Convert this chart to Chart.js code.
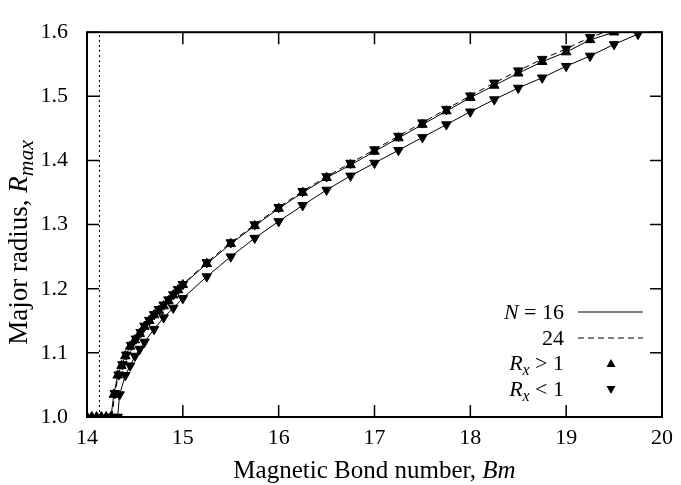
<!DOCTYPE html>
<html>
<head>
<meta charset="utf-8">
<script src="https://cdn.jsdelivr.net/npm/chart.js@4"></script>
<style>
  body { margin: 0; background: #fff; }
</style>
</head>
<body>
<canvas id="chart" width="681" height="485"></canvas>
<script>
// x ticks / y ticks
const xTicks = [14, 15, 16, 17, 18, 19, 20];
const yTicks = [1.0, 1.1, 1.2, 1.3, 1.4, 1.5, 1.6];

// N = 16, Rx > 1 (solid, up triangles)
const bm16Up = [14.0, 14.05, 14.1, 14.15, 14.2, 14.25, 14.28, 14.32, 14.36, 14.4, 14.45, 14.5, 14.55, 14.6, 14.65, 14.7, 14.75, 14.8, 14.85, 14.9, 14.95, 15.0,
  15.25, 15.5, 15.75, 16.0, 16.25, 16.5, 16.75, 17.0, 17.25, 17.5, 17.75, 18.0, 18.25, 18.5, 18.75, 19.0, 19.25, 19.5];
const r16Up = [1.0, 1.0, 1.0, 1.0, 1.0, 1.0, 1.035, 1.065, 1.08, 1.095, 1.11, 1.12, 1.13, 1.141, 1.15, 1.159, 1.166, 1.173, 1.181, 1.19, 1.198, 1.206,
  1.239, 1.270, 1.298, 1.325, 1.350, 1.373, 1.393, 1.414, 1.435, 1.456, 1.477, 1.498, 1.517, 1.536, 1.554, 1.569, 1.588, 1.600];

// N = 24 (dashed, down triangles on the upper branch)
const bm24 = [14.26, 14.29, 14.33, 14.37, 14.41, 14.46, 14.51, 14.56, 14.6, 14.65, 14.7, 14.75, 14.8, 14.85, 14.9, 14.95, 15.0,
  15.25, 15.5, 15.75, 16.0, 16.25, 16.5, 16.75, 17.0, 17.25, 17.5, 17.75, 18.0, 18.25, 18.5, 18.75, 19.0, 19.25, 19.5];
const r24 = [1.0, 1.037, 1.066, 1.082, 1.097, 1.112, 1.122, 1.132, 1.142, 1.151, 1.160, 1.168, 1.175, 1.183, 1.191, 1.199, 1.207,
  1.241, 1.272, 1.300, 1.327, 1.352, 1.375, 1.396, 1.417, 1.438, 1.459, 1.480, 1.501, 1.521, 1.540, 1.558, 1.574, 1.592, 1.605];

// N = 16, Rx < 1 (solid, down triangles)
const bm16Down = [14.32, 14.34, 14.4, 14.45, 14.5, 14.55, 14.6, 14.7, 14.8, 14.9, 15.0, 15.25, 15.5, 15.75, 16.0, 16.25, 16.5, 16.75,
  17.0, 17.25, 17.5, 17.75, 18.0, 18.25, 18.5, 18.75, 19.0, 19.25, 19.5, 19.75];
const r16Down = [1.0, 1.035, 1.065, 1.08, 1.095, 1.106, 1.117, 1.137, 1.155, 1.17, 1.185, 1.219, 1.250, 1.279, 1.305, 1.330, 1.354, 1.376,
  1.396, 1.416, 1.436, 1.456, 1.476, 1.495, 1.513, 1.529, 1.547, 1.563, 1.581, 1.597];

// dotted vertical line
const criticalX = [14.13, 14.13];
const criticalY = [1.0, 1.6];

const serif = '"Liberation Serif", "Times New Roman", serif';

function pts(xs, ys) {
  return xs.map((x, i) => ({ x: x, y: ys[i] }));
}

function series(xs, ys, rot, dash) {
  return {
    data: pts(xs, ys),
    showLine: true,
    borderColor: '#000',
    borderWidth: 1,
    borderDash: dash,
    pointStyle: 'triangle',
    rotation: rot,
    pointRadius: 5.5,
    pointBackgroundColor: '#000',
    pointBorderColor: '#000',
    pointBorderWidth: 1
  };
}

// mixed italic / subscript text
function richWidth(ctx, parts, size, subScale) {
  let w = 0;
  parts.forEach(p => {
    const s = p.sub ? size * subScale : size;
    ctx.font = (p.it ? 'italic ' : '') + s + 'px ' + serif;
    w += ctx.measureText(p.t).width;
  });
  return w;
}
function drawRich(ctx, parts, x, y, size, align, subScale) {
  subScale = subScale || 0.72;
  const w = richWidth(ctx, parts, size, subScale);
  let cx = align === 'right' ? x - w : align === 'center' ? x - w / 2 : x;
  ctx.textBaseline = 'alphabetic';
  ctx.textAlign = 'left';
  parts.forEach(p => {
    const s = p.sub ? size * subScale : size;
    ctx.font = (p.it ? 'italic ' : '') + s + 'px ' + serif;
    ctx.fillText(p.t, cx, p.sub ? y + size * 0.22 : y);
    cx += ctx.measureText(p.t).width;
  });
}

const framePlugin = {
  id: 'frame',
  afterDraw(chart) {
    const ctx = chart.ctx;
    const a = chart.chartArea;
    const xs = chart.scales.x, ys = chart.scales.y;
    ctx.save();
    ctx.fillStyle = '#000';
    ctx.strokeStyle = '#000';

    // inward ticks on all sides
    ctx.lineWidth = 1.5;
    ctx.beginPath();
    xs.ticks.forEach(t => {
      const px = xs.getPixelForValue(t.value);
      ctx.moveTo(px, a.bottom); ctx.lineTo(px, a.bottom - 12);
      ctx.moveTo(px, a.top); ctx.lineTo(px, a.top + 12);
    });
    ys.ticks.forEach(t => {
      const py = ys.getPixelForValue(t.value);
      ctx.moveTo(a.left, py); ctx.lineTo(a.left + 12, py);
      ctx.moveTo(a.right, py); ctx.lineTo(a.right - 12, py);
    });
    ctx.stroke();

    // frame
    ctx.lineWidth = 2;
    ctx.strokeRect(a.left, a.top, a.right - a.left, a.bottom - a.top);

    // axis titles
    drawRich(ctx, [{ t: 'Magnetic Bond number, ' }, { t: 'Bm', it: true }],
      (a.left + a.right) / 2, 478, 25, 'center');
    ctx.save();
    ctx.translate(27, chart.height / 2);
    ctx.rotate(-Math.PI / 2);
    drawRich(ctx, [{ t: 'Major radius, ' }, { t: 'R', it: true }, { t: 'max', it: true, sub: true }],
      0, 0, 27, 'center', 0.8);
    ctx.restore();

    // legend
    const lx = 564, sx1 = 578, sx2 = 643;
    drawRich(ctx, [{ t: 'N', it: true }, { t: ' = 16' }], lx, 319, 22, 'right');
    drawRich(ctx, [{ t: '24' }], lx, 345, 22, 'right');
    drawRich(ctx, [{ t: 'R', it: true }, { t: 'x', it: true, sub: true }, { t: ' > 1' }], lx, 370, 22, 'right');
    drawRich(ctx, [{ t: 'R', it: true }, { t: 'x', it: true, sub: true }, { t: ' < 1' }], lx, 396, 22, 'right');

    ctx.lineWidth = 1;
    ctx.beginPath(); ctx.moveTo(sx1, 312); ctx.lineTo(sx2, 312); ctx.stroke();
    ctx.setLineDash([6, 4]);
    ctx.beginPath(); ctx.moveTo(sx1, 338); ctx.lineTo(sx2, 338); ctx.stroke();
    ctx.setLineDash([]);
    const tx = 611;
    ctx.beginPath(); ctx.moveTo(tx, 359); ctx.lineTo(tx + 4.5, 367); ctx.lineTo(tx - 4.5, 367); ctx.closePath(); ctx.fill();
    ctx.beginPath(); ctx.moveTo(tx, 394); ctx.lineTo(tx + 4.5, 386); ctx.lineTo(tx - 4.5, 386); ctx.closePath(); ctx.fill();
    ctx.restore();
  }
};

new Chart(document.getElementById('chart'), {
  type: 'scatter',
  data: {
    datasets: [
      {
        data: pts(criticalX, criticalY),
        showLine: true,
        borderColor: '#000',
        borderWidth: 1,
        borderDash: [2, 3],
        pointRadius: 0
      },
      series(bm16Up, r16Up, 0, []),
      series(bm24, r24, 180, [6, 4]),
      series(bm16Down, r16Down, 180, [])
    ]
  },
  options: {
    responsive: false,
    animation: false,
    layout: { padding: { top: 12, right: 12, left: 0, bottom: 0 } },
    plugins: { legend: { display: false }, tooltip: { enabled: false } },
    scales: {
      x: {
        min: 14, max: 20,
        afterFit: s => { s.height = 68; },
        afterBuildTicks: s => { s.ticks = xTicks.map(v => ({ value: v })); },
        grid: { display: false, drawTicks: false },
        border: { display: false },
        ticks: { color: '#000', padding: 8, font: { family: serif, size: 22 }, callback: v => String(v) }
      },
      y: {
        min: 1.0, max: 1.6,
        afterFit: s => { s.width = 87; },
        afterBuildTicks: s => { s.ticks = yTicks.map(v => ({ value: v })); },
        grid: { display: false, drawTicks: false },
        border: { display: false },
        ticks: { color: '#000', padding: 19, font: { family: serif, size: 22 }, callback: v => v.toFixed(1) }
      }
    }
  },
  plugins: [framePlugin]
});
</script>
</body>
</html>
